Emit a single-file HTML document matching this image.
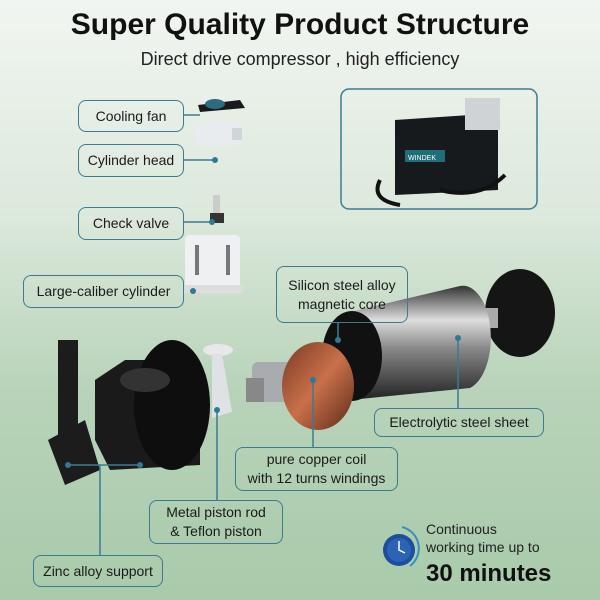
<!DOCTYPE html>
<html><head><meta charset="utf-8"><style>
*{margin:0;padding:0;box-sizing:border-box}
body{width:600px;height:600px;overflow:hidden;font-family:"Liberation Sans",sans-serif;background:linear-gradient(#f1f5f1 0%,#dde9dd 35%,#b8d3b9 65%,#a9caab 100%);position:relative}
.t{position:absolute;left:0;width:600px;text-align:center;color:#111}
.b{position:absolute;border:1.5px solid #3d7b91;border-radius:8px;display:flex;align-items:center;justify-content:center;text-align:center;font-size:14px;color:#1a1a1a;line-height:19px}
</style></head><body>
<div class="t" style="top:8px;font-size:30px;font-weight:bold">Super Quality Product Structure</div>
<div class="t" style="top:49px;font-size:18px;color:#222">Direct drive compressor , high efficiency</div>
<svg width="600" height="600" style="position:absolute;left:0;top:0">
<defs>
<linearGradient id="m" x1="0" y1="0" x2="0" y2="1"><stop offset="0" stop-color="#333"/><stop offset=".3" stop-color="#ddd"/><stop offset=".55" stop-color="#888"/><stop offset="1" stop-color="#222"/></linearGradient>
<linearGradient id="c" x1="0" y1="0" x2="1" y2="1"><stop offset="0" stop-color="#7a3a22"/><stop offset=".5" stop-color="#c9704a"/><stop offset="1" stop-color="#5a2a18"/></linearGradient>
</defs>
<g stroke="#3d7b91" stroke-width="1.5" fill="none">
<rect x="341" y="89" width="196" height="120" rx="8"/>
<line x1="184" y1="115" x2="200" y2="115"/><line x1="184" y1="160" x2="215" y2="160"/><line x1="184" y1="222" x2="212" y2="222"/><line x1="184" y1="291" x2="193" y2="291"/>
</g>
<!-- fan -->
<path d="M198 105 L240 100 L245 108 L200 112Z" fill="#1a1a1a"/><ellipse cx="215" cy="104" rx="10" ry="5" fill="#2c6c80"/>
<!-- cylinder head -->
<rect x="195" y="123" width="45" height="22" rx="4" fill="#e8ecef"/><rect x="232" y="128" width="10" height="12" fill="#cfd6da"/>
<!-- check valve -->
<rect x="213" y="195" width="7" height="18" fill="#ccc"/><rect x="210" y="213" width="14" height="10" fill="#333"/>
<!-- white cylinder -->
<rect x="185" y="235" width="55" height="55" rx="4" fill="#eef0f2"/><rect x="183" y="285" width="60" height="8" fill="#ddd"/><rect x="195" y="245" width="4" height="30" fill="#777"/><rect x="226" y="245" width="4" height="30" fill="#777"/>
<!-- compressor photo -->
<path d="M395 120 L470 115 L498 128 L498 190 L395 195 Z" fill="#161a1c"/><rect x="465" y="98" width="35" height="32" fill="#cfd3d6"/><rect x="405" y="150" width="40" height="12" fill="#1f6f78"/><text x="408" y="160" font-size="7" fill="#fff" font-family="Liberation Sans">WINDEK</text>
<path d="M380 180 Q370 200 400 205 M440 190 Q480 200 505 175" stroke="#111" stroke-width="4" fill="none"/>
<!-- end cap -->
<ellipse cx="520" cy="313" rx="35" ry="44" fill="#151515"/><rect x="482" y="308" width="16" height="20" fill="#aaa"/>
<!-- cylinder motor -->
<path d="M350 312 L460 286 A28 52 0 0 1 470 388 L350 400 Z" fill="url(#m)"/>
<ellipse cx="352" cy="356" rx="30" ry="45" fill="#111"/>
<!-- rotor -->
<rect x="252" y="362" width="45" height="40" rx="6" fill="#a8acae"/><rect x="246" y="378" width="18" height="24" fill="#888"/>
<ellipse cx="318" cy="386" rx="36" ry="44" fill="url(#c)"/>
<!-- piston rod -->
<ellipse cx="218" cy="350" rx="15" ry="6" fill="#e6e8ea"/><path d="M212 354 L222 354 L232 412 L212 418Z" fill="#dfe2e4"/>
<!-- housing -->
<path d="M95 380 L125 360 L185 360 L200 380 L200 465 L110 470 L95 440Z" fill="#1a1a1a"/>
<ellipse cx="172" cy="405" rx="38" ry="65" fill="#0e0e0e"/><ellipse cx="145" cy="380" rx="25" ry="12" fill="#333"/>
<rect x="58" y="340" width="20" height="120" fill="#1c1c1c"/><path d="M48 440 L85 420 L100 470 L65 485Z" fill="#1c1c1c"/>
<g stroke="#3d7b91" stroke-width="1.5" fill="none">
<line x1="338" y1="323" x2="338" y2="340"/><line x1="458" y1="338" x2="458" y2="408"/><line x1="313" y1="380" x2="313" y2="447"/>
<line x1="217" y1="410" x2="217" y2="500"/><line x1="68" y1="465" x2="140" y2="465"/><line x1="100" y1="465" x2="100" y2="555"/>
</g>
<g fill="#2f7896">
<circle cx="215" cy="160" r="3"/><circle cx="212" cy="222" r="3"/><circle cx="193" cy="291" r="3"/><circle cx="338" cy="340" r="3"/><circle cx="458" cy="338" r="3"/><circle cx="313" cy="380" r="3"/><circle cx="217" cy="410" r="3"/><circle cx="68" cy="465" r="3"/><circle cx="140" cy="465" r="3"/>
</g>
<!-- clock -->
<circle cx="399" cy="550" r="16" fill="#1d4f9c"/><circle cx="399" cy="550" r="12" fill="#2c63b5"/><path d="M399 541 L399 550 L405 553" stroke="#fff" stroke-width="1.5" fill="none"/><path d="M402 527 A22 22 0 0 1 410 566" stroke="#3a8fc0" stroke-width="2" fill="none"/>
</svg>
<div class="b" style="left:78px;top:100px;width:106px;height:32px">Cooling fan</div>
<div class="b" style="left:78px;top:144px;width:106px;height:33px">Cylinder head</div>
<div class="b" style="left:78px;top:207px;width:106px;height:33px">Check valve</div>
<div class="b" style="left:23px;top:275px;width:161px;height:33px">Large-caliber cylinder</div>
<div class="b" style="left:276px;top:266px;width:132px;height:57px">Silicon steel alloy<br>magnetic core</div>
<div class="b" style="left:374px;top:408px;width:170px;height:29px">Electrolytic steel sheet</div>
<div class="b" style="left:235px;top:447px;width:163px;height:44px">pure copper coil<br>with 12 turns windings</div>
<div class="b" style="left:149px;top:500px;width:134px;height:44px">Metal piston rod<br>&amp; Teflon piston</div>
<div class="b" style="left:33px;top:555px;width:130px;height:32px">Zinc alloy support</div>
<div style="position:absolute;left:426px;top:520px;font-size:14px;line-height:18px;color:#222">Continuous<br>working time up to</div>
<div style="position:absolute;left:426px;top:560px;font-size:24px;font-weight:bold;color:#111">30 minutes</div>
</body></html>
